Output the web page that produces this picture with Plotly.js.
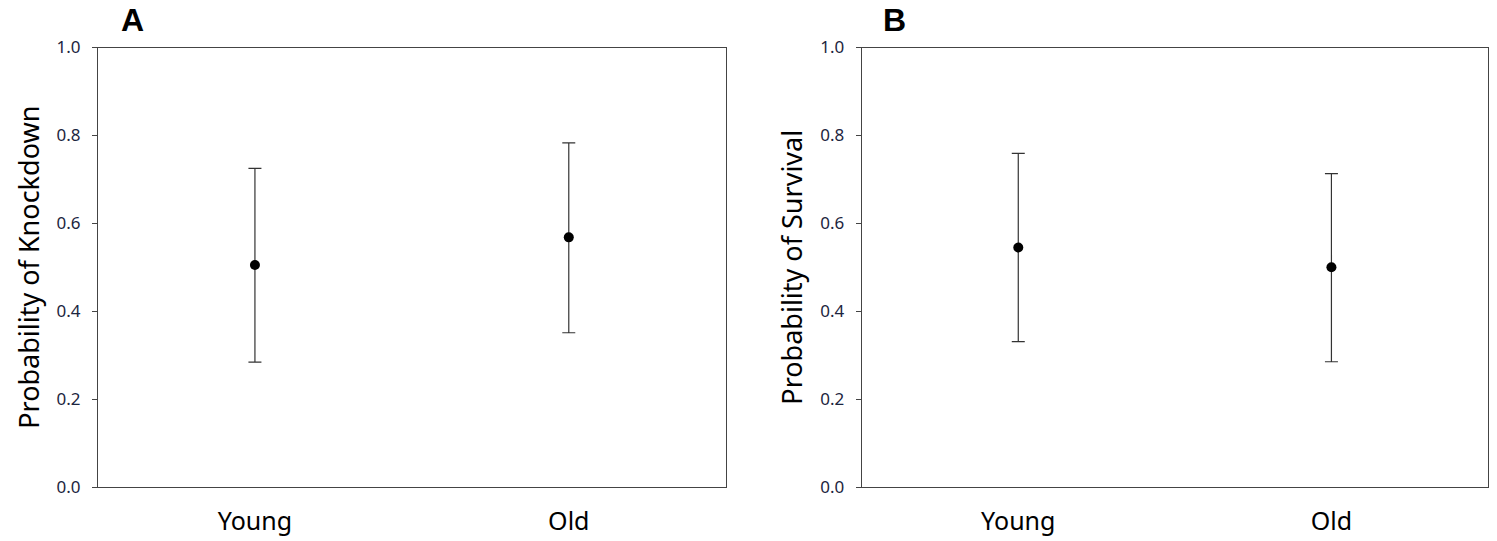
<!DOCTYPE html>
<html>
<head>
<meta charset="utf-8">
<script src="https://cdn.plot.ly/plotly-3.0.1.min.js"></script>
<style>html,body{margin:0;padding:0;background:#fff;}#chart{width:1497px;height:541px;}</style>
</head>
<body>
<div id="chart"></div>
<script>
const categories = ["Young", "Old"];
const knockdownMean = [0.505, 0.568];
const knockdownUpper = [0.725, 0.783];
const knockdownLower = [0.284, 0.351];
const survivalMean = [0.545, 0.500];
const survivalUpper = [0.759, 0.713];
const survivalLower = [0.331, 0.285];
const yTicks = [0, 0.2, 0.4, 0.6, 0.8, 1.0];
const yTickLabels = ["0.0", "0.2", "0.4", "0.6", "0.8", "1.0"];

function trace(mean, upper, lower, xa, ya) {
  return {
    type: "scatter", mode: "markers",
    x: categories, y: mean, xaxis: xa, yaxis: ya,
    marker: {color: "#000", size: 10},
    error_y: {
      type: "data", symmetric: false,
      array: upper.map((u, i) => u - mean[i]),
      arrayminus: mean.map((m, i) => m - lower[i]),
      color: "#333", thickness: 1.2, width: 6.5
    },
    hoverinfo: "x+y", showlegend: false
  };
}

const font = "Noto Sans, Open Sans, sans-serif";
const tickColor = "#1c2540";
function yax(domain, title) {
  return {
    domain: domain, range: [0, 1], tickvals: yTicks, ticktext: yTickLabels,
    ticks: "outside", ticklen: 5, tickcolor: "#444", tickwidth: 1,
    showline: true, linecolor: "#444", linewidth: 1, mirror: true,
    showgrid: false, zeroline: false, fixedrange: true,
    tickfont: {family: font, size: 17, color: tickColor},
    ticklabelstandoff: 8,
    title: {text: title, font: {family: font, size: 27, color: "#000"}, standoff: 9}
  };
}
function xax(domain, anchor) {
  return {
    domain: domain, anchor: anchor, type: "category", range: [-0.5, 1.5],
    categoryorder: "array", categoryarray: categories,
    ticks: "", showline: true, linecolor: "#444", linewidth: 1, mirror: true,
    showgrid: false, zeroline: false, fixedrange: true,
    tickfont: {family: font, size: 25, color: "#000"},
    ticklabelstandoff: 12
  };
}

const yDom = [(541 - 487) / 541, (541 - 47.5) / 541];
const layout = {
  width: 1497, height: 541,
  margin: {l: 0, r: 0, t: 0, b: 0},
  paper_bgcolor: "#fff", plot_bgcolor: "#fff",
  xaxis: xax([98 / 1497, 725.7 / 1497], "y"),
  yaxis: Object.assign(yax(yDom, "Probability of Knockdown"), {anchor: "x"}),
  xaxis2: xax([861.7 / 1497, 1488 / 1497], "y2"),
  yaxis2: Object.assign(yax(yDom, "Probability of Survival"), {anchor: "x2"}),
  annotations: [
    {text: "<b>A</b>", xref: "paper", yref: "paper", x: 132 / 1497, y: (541 - 20) / 541,
     xanchor: "center", yanchor: "middle",
     showarrow: false, font: {family: "Liberation Sans, Arial, sans-serif", size: 32, color: "#000"}},
    {text: "<b>B</b>", xref: "paper", yref: "paper", x: 894 / 1497, y: (541 - 20) / 541,
     xanchor: "center", yanchor: "middle",
     showarrow: false, font: {family: "Liberation Sans, Arial, sans-serif", size: 32, color: "#000"}}
  ]
};

Plotly.newPlot("chart", [
  trace(knockdownMean, knockdownUpper, knockdownLower, "x", "y"),
  trace(survivalMean, survivalUpper, survivalLower, "x2", "y2")
], layout, {displayModeBar: false, responsive: false});
</script>
</body>
</html>
